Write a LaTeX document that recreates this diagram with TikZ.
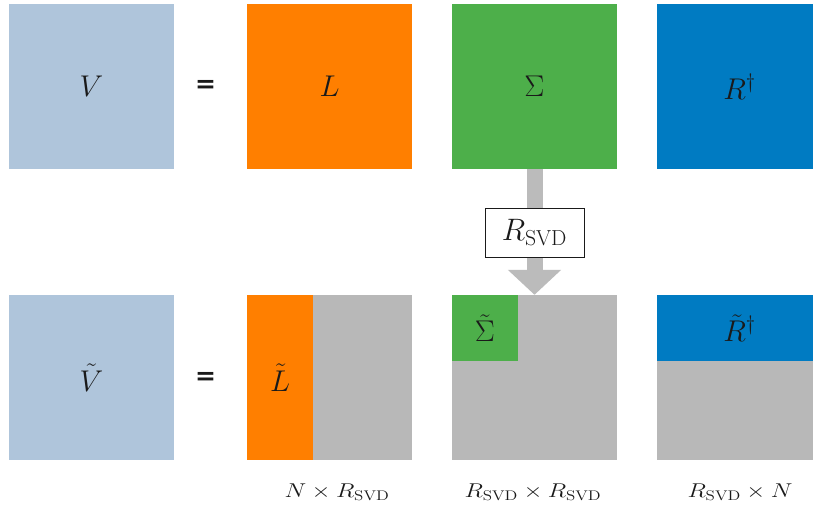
\RequirePackage{fix-cm}
\documentclass[tikz,border=0pt]{standalone}
\usepackage{graphicx}
\usepackage{fontspec}
\newfontfamily\eqfont{DejaVu Sans}
\usetikzlibrary{arrows.meta}

\definecolor{vblue}{HTML}{AFC5DB}
\definecolor{lorange}{HTML}{FF7F00}
\definecolor{sgreen}{HTML}{4DAF4A}
\definecolor{rblue}{HTML}{007BC2}
\definecolor{padgray}{HTML}{B8B8B8}
\definecolor{arrowgray}{HTML}{BBBBBB}
\definecolor{ink}{HTML}{1A1A1A}

% factor shapes are set a little wider than tall
\newcommand{\wideshape}[1]{\scalebox{1.22}[1]{#1}}

\tikzset{
  mat/.style={rectangle, inner sep=0pt, minimum width=165pt, minimum height=165pt,
              text=ink, font=\fontsize{30}{36}\selectfont},
  part/.style={rectangle, inner sep=0pt, text=ink, font=\fontsize{30}{36}\selectfont},
  eqsign/.style={inner sep=0pt, text=ink, font=\fontsize{25}{30}\selectfont\eqfont\bfseries},
  dims/.style={inner sep=0pt, text=ink, font=\fontsize{20}{24}\selectfont},
  rankbox/.style={rectangle, draw=ink, line width=0.9pt, fill=white, inner sep=0pt,
                  minimum width=99pt, minimum height=49pt, text=ink,
                  font=\fontsize{31}{36}\selectfont},
}

\begin{document}
\begin{tikzpicture}[x=1pt, y=-1pt]
  \useasboundingbox (0,0) rectangle (813,508);
  \clip (0,0) rectangle (813,508);

  % full decomposition V = L Sigma R^dagger
  \node[mat, fill=vblue]   (V) at (91.5,86.5)  {$V$};
  \node[eqsign]            (eq1) at (205.5,86) {=};
  \node[mat, fill=lorange] (L) at (329.5,86.5) {$L$};
  \node[mat, fill=sgreen]  (S) at (534.5,86.5) {$\Sigma$};
  \node[mat, fill=rblue]   (R) at (739.5,86.5) {$R^\dagger$};

  % truncated decomposition, padded to full size
  \node[mat, fill=vblue]   (Vt) at (91.5,377.5)  {$\tilde{V}$};
  \node[eqsign]            (eq2) at (205.5,378) {=};
  \node[mat, fill=padgray] (Lt) at (329.5,377.5) {};
  \node[mat, fill=padgray] (St) at (534.5,377.5) {};
  \node[mat, fill=padgray] (Rt) at (739.5,377.5) {};

  \node[part, fill=lorange, minimum width=66pt, minimum height=165pt] (Lk) at (280,377.5) {$\tilde{L}$};
  \node[part, fill=sgreen, minimum width=66pt, minimum height=66pt]   (Sk) at (485,328)   {$\tilde{\Sigma}$};
  \node[part, fill=rblue, minimum width=165pt, minimum height=66pt]   (Rk) at (739.5,328) {$\tilde{R}^\dagger$};

  % truncation arrow
  \draw[arrowgray, line width=16pt, -{Triangle[width=52pt,length=25pt]}]
    (S.south) -- (St.north);
  \node[rankbox] (rk) at (534.5,232.5) {$R_{\mathrm{SVD}}$};

  % shapes of the truncated factors
  \node[dims] (dL) at (337,492)   {\wideshape{$N\times R_{\mathrm{SVD}}$}};
  \node[dims] (dS) at (533,492) {\wideshape{$R_{\mathrm{SVD}}\times R_{\mathrm{SVD}}$}};
  \node[dims] (dR) at (740,492)   {\wideshape{$R_{\mathrm{SVD}}\times N$}};
\end{tikzpicture}
\end{document}
